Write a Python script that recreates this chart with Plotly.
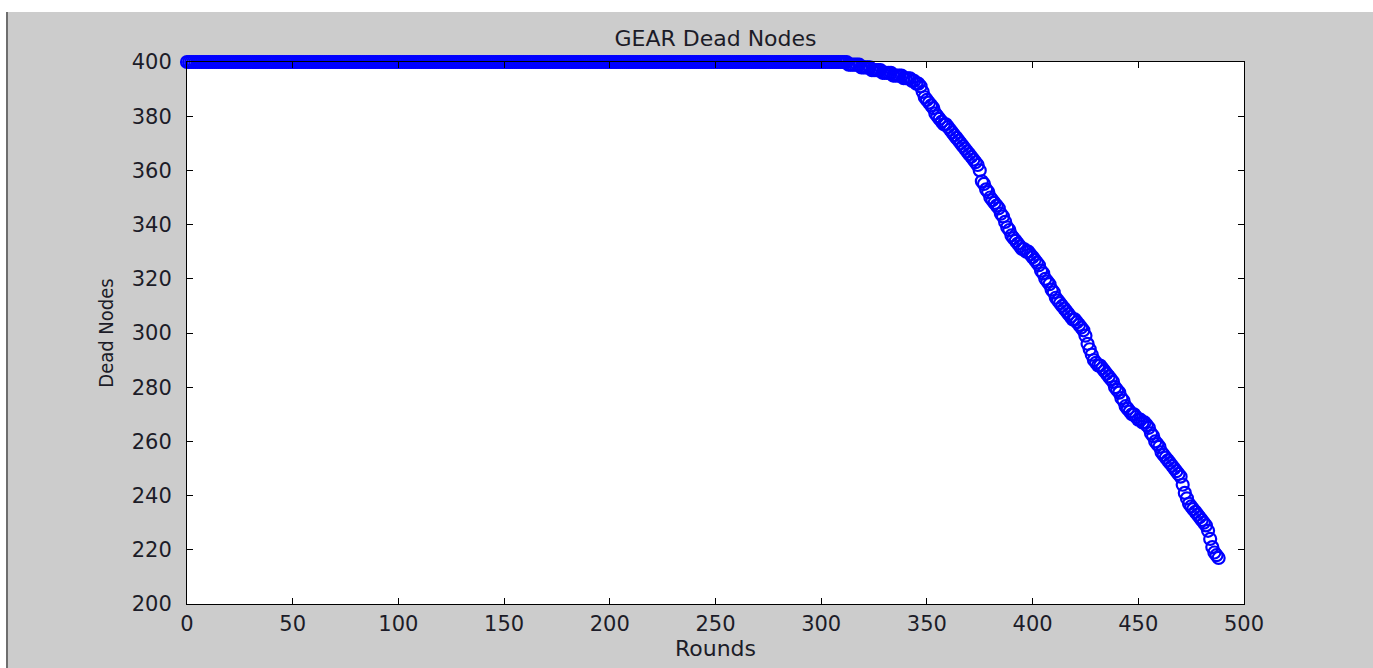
import plotly.graph_objects as go

# Rounds 0..304: all nodes still counted at 400
flat_values = [400] * 305
# Rounds 305..488
decline_values = [
    400, 400, 400, 400, 400, 400, 400, 400,          # 305-312
    399, 399, 399, 399, 399, 399,                    # 313-318
    398, 398, 398, 398, 398,                         # 319-323
    397, 397, 397, 397, 397,                         # 324-328
    396, 396, 396, 396, 396,                         # 329-333
    395, 395, 395, 395, 395,                         # 334-338
    394, 394, 394, 394,                              # 339-342
    393, 393, 392, 392,                              # 343-346
    391, 389, 387, 386, 385, 384, 383, 381, 380, 379,  # 347-356
    378, 377, 377, 376, 375, 374, 373, 372, 371, 370,  # 357-366
    369, 368, 367, 366, 365, 364, 363, 362, 360, 356,  # 367-376
    355, 353, 352, 350, 349, 348, 347, 346, 344, 343,  # 377-386
    341, 339, 338, 336, 335, 334, 333, 332, 331, 331,  # 387-396
    330, 330, 329, 328, 327, 326, 325, 323, 322, 320,  # 397-406
    319, 318, 316, 315, 313, 312, 311, 310, 309, 308,  # 407-416
    307, 306, 305, 305, 304, 303, 302, 301, 299, 296,  # 417-426
    294, 292, 290, 289, 288, 288, 287, 286, 285, 284,  # 427-436
    283, 282, 280, 279, 278, 276, 275, 273, 272, 271,  # 437-446
    270, 270, 269, 268, 268, 267, 267, 266, 265, 263,  # 447-456
    262, 260, 259, 258, 256, 255, 254, 253, 252, 251,  # 457-466
    250, 249, 248, 247, 244, 241, 239, 237, 236, 235,  # 467-476
    234, 233, 232, 231, 230, 229, 227, 224, 221, 219,  # 477-486
    218, 217,                                        # 487-488
]
alive_nodes = flat_values + decline_values
rounds = list(range(len(alive_nodes)))

x_ticks = [0, 50, 100, 150, 200, 250, 300, 350, 400, 450, 500]
y_ticks = [200, 220, 240, 260, 280, 300, 320, 340, 360, 380, 400]

TEXT = "#1c1c28"
tick_font = dict(family="DejaVu Sans", size=21, color=TEXT)

fig = go.Figure()
fig.add_trace(go.Scatter(
    x=rounds, y=alive_nodes, mode="markers",
    marker=dict(symbol="circle-open", size=12, color="#0000ff",
                line=dict(width=2.2, color="#0000ff")),
    cliponaxis=False, showlegend=False,
))

W, H = 1373, 668
L, R, T, B = 187, 129, 62, 64
pw, ph = W - L - R, H - T - B

def px_to_paper_x(px):
    return (px - L) / pw

def px_to_paper_y(py):
    return (H - B - py) / ph

shapes = [
    # white strip at top
    dict(type="rect", xref="paper", yref="paper", layer="below",
         x0=px_to_paper_x(-5), x1=px_to_paper_x(W + 5),
         y0=px_to_paper_y(12), y1=px_to_paper_y(-5),
         fillcolor="white", line=dict(width=0)),
    # white strip at left
    dict(type="rect", xref="paper", yref="paper", layer="below",
         x0=px_to_paper_x(-5), x1=px_to_paper_x(6),
         y0=px_to_paper_y(H + 5), y1=px_to_paper_y(-5),
         fillcolor="white", line=dict(width=0)),
    # dark window edge on the left
    dict(type="line", xref="paper", yref="paper", layer="below",
         x0=px_to_paper_x(7), x1=px_to_paper_x(7),
         y0=px_to_paper_y(12), y1=px_to_paper_y(H + 5),
         line=dict(color="#6e6e6e", width=2)),
]

fig.update_layout(
    width=W, height=H,
    margin=dict(l=L, r=R, t=T, b=B, pad=0),
    paper_bgcolor="#cccccc", plot_bgcolor="white",
    shapes=shapes,
    title=dict(text="GEAR Dead Nodes", x=0.5, xref="paper",
               y=1 - 38 / H, yref="container", yanchor="middle", xanchor="center",
               font=dict(family="DejaVu Sans", size=22, color=TEXT)),
    xaxis=dict(range=[0, 500], tickvals=x_ticks, ticktext=[str(v) for v in x_ticks],
               showgrid=False, zeroline=False, showline=True, linecolor="black",
               linewidth=1, mirror="ticks", ticks="inside", ticklen=6,
               tickcolor="black", tickfont=tick_font, ticklabelstandoff=1,
               title=dict(text="Rounds", standoff=2,
                          font=dict(family="DejaVu Sans", size=22, color=TEXT))),
    yaxis=dict(range=[200, 400], tickvals=y_ticks, ticktext=[str(v) for v in y_ticks],
               showgrid=False, zeroline=False, showline=True, linecolor="black",
               linewidth=1, mirror="ticks", ticks="inside", ticklen=6,
               tickcolor="black", tickfont=tick_font, ticklabelstandoff=10,
               title=dict(text="Dead Nodes", standoff=12,
                          font=dict(family="DejaVu Sans Condensed, Liberation Sans, sans-serif",
                                    size=20, color=TEXT))),
)

fig.write_html("out.html")
